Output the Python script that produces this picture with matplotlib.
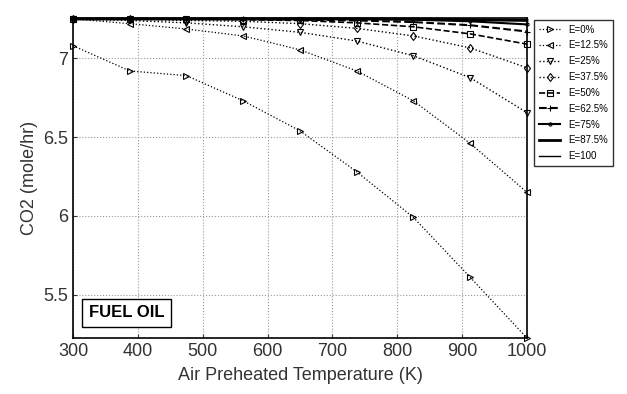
import numpy as np
import matplotlib
matplotlib.use('Agg')
import matplotlib.pyplot as plt

plt.rcParams['font.family'] = ['Liberation Sans', 'DejaVu Sans']

# air preheat temperature (K) and CO2 (mole/hr) for each E level
temps = [300, 387.5, 475, 562.5, 650, 737.5, 825, 912.5, 1000]
co2_e0 = [7.08, 6.92, 6.89, 6.73, 6.54, 6.28, 5.99, 5.61, 5.225]
co2_e125 = [7.25, 7.22, 7.186, 7.142, 7.054, 6.92, 6.73, 6.46, 6.15]
co2_e25 = [7.25, 7.24, 7.225, 7.20, 7.165, 7.11, 7.016, 6.877, 6.655]
co2_e375 = [7.25, 7.25, 7.24, 7.235, 7.22, 7.19, 7.142, 7.066, 6.94]
co2_e50 = [7.25, 7.25, 7.25, 7.245, 7.24, 7.225, 7.20, 7.155, 7.09]
co2_e625 = [7.25, 7.25, 7.25, 7.25, 7.245, 7.24, 7.23, 7.21, 7.17]
co2_e75 = [7.25, 7.25, 7.25, 7.25, 7.25, 7.25, 7.245, 7.235, 7.215]
co2_e875 = [7.25, 7.25, 7.25, 7.25, 7.25, 7.25, 7.25, 7.245, 7.24]
co2_e100 = [7.25, 7.25, 7.25, 7.25, 7.25, 7.25, 7.25, 7.25, 7.25]

labels = ['E=0%', 'E=12.5%', 'E=25%', 'E=37.5%', 'E=50%',
          'E=62.5%', 'E=75%', 'E=87.5%', 'E=100']
series = [co2_e0, co2_e125, co2_e25, co2_e375, co2_e50,
          co2_e625, co2_e75, co2_e875, co2_e100]
markers = ['>', '<', 'v', 'd', 's', '+', '.', '', '']
styles = [':', ':', ':', ':', '--', '--', '-', '-', '-']
widths = [0.9, 0.9, 1.0, 1.0, 1.2, 1.5, 1.5, 2.0, 1.0]

fig = plt.figure(figsize=(6.27, 3.94), dpi=100)
ax = fig.add_axes([0.1164, 0.142, 0.7241, 0.812])

for y, lab, m, ls, lw in zip(series, labels, markers, styles, widths):
    ax.plot(temps, y, linestyle=ls, marker=m, color='black', linewidth=lw,
            markersize=4.5, markerfacecolor='none', markeredgewidth=0.8,
            label=lab, clip_on=False)

ax.set_xlim(300, 1000)
ax.set_ylim(5.225, 7.255)
ax.set_xticks(range(300, 1001, 100))
ax.set_yticks([5.5, 6, 6.5, 7])
ax.set_yticklabels(['5.5', '6', '6.5', '7'])
ax.tick_params(labelsize=13, direction='in', length=3, colors='#333333')
ax.grid(True, linestyle=':', color='#999999', linewidth=0.8)
for s in ax.spines.values():
    s.set_linewidth(1.2)

ax.set_xlabel('Air Preheated Temperature (K)', fontsize=13, labelpad=5,
              color='#333333')
ax.set_ylabel('CO2 (mole/hr)', fontsize=13, labelpad=4, color='#333333')

ax.text(0.035, 0.055, 'FUEL OIL', transform=ax.transAxes, fontsize=12,
        fontweight='bold', va='bottom', ha='left',
        bbox=dict(boxstyle='square,pad=0.4', facecolor='white',
                  edgecolor='black', linewidth=1.0))

leg = ax.legend(loc='upper left', bbox_to_anchor=(1.005, 1.01), fontsize=7,
                frameon=True, fancybox=False, edgecolor='black',
                handlelength=2.2, labelspacing=0.6, borderpad=0.5)
leg.get_frame().set_linewidth(1.0)

fig.savefig('out.png', dpi=100)
